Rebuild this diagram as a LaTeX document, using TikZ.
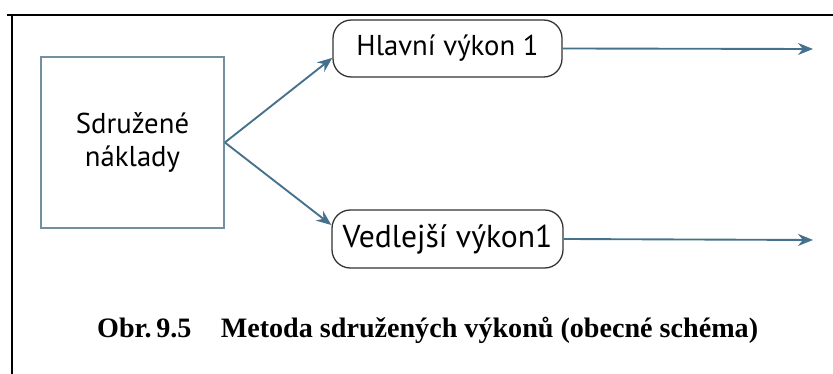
\documentclass[tikz,border=0pt]{standalone}
\usepackage{fontspec}
\setmainfont{Liberation Serif}
\newfontfamily\boxfont{PT Sans}
\usetikzlibrary{arrows.meta,positioning}
\definecolor{flowblue}{HTML}{45718C}
\definecolor{framegray}{HTML}{7490A0}
\definecolor{outline}{HTML}{333333}

\begin{document}
\begin{tikzpicture}[x=0.03cm, y=-0.03cm,
  costbox/.style={draw=framegray, line width=1.5pt, minimum width=5.49cm, minimum height=5.13cm, align=center, font=\boxfont\fontsize{24.5}{28.5}\selectfont},
  outbox/.style={draw=outline, line width=1.1pt, rounded corners=0.55cm, inner sep=0pt},
  flow/.style={draw=flowblue, line width=1.6pt, -{Stealth[length=0.45cm,width=0.36cm]}}
]
\useasboundingbox (0,0) rectangle (833,374);
% frame
\draw[line width=1.6pt] (7,15) -- (833,15);
\draw[line width=1.6pt] (12,15) -- (12,374);

\node[costbox] (cost) at (132.5,142.5) {Sdružené\\náklady};
\node[outbox, minimum width=6.87cm, minimum height=1.71cm, font=\boxfont\fontsize{24.5}{28}\selectfont] (main) at (447.5,48.5) {Hlavní výkon 1};
\node[outbox, minimum width=6.93cm, minimum height=1.74cm, font=\boxfont\fontsize{27}{30}\selectfont] (side) at (447.5,239) {Vedlejší výkon1};
\coordinate (mainend) at (813,49);
\coordinate (sideend) at (813,240);

\draw[flow] (cost.east) -- ([yshift=-0.28cm]main.west);
\draw[flow] (cost.east) -- ([yshift=0.42cm]side.west);
\draw[flow] (main.east) -- (mainend);
\draw[flow] (side.east) -- (sideend);

% caption
\node[anchor=base west, inner sep=0pt, font=\bfseries\fontsize{24}{26}\selectfont] (caption) at (97,338) {Obr.\,9.5\hspace{25pt}Metoda sdružených výkonů (obecné schéma)};
\end{tikzpicture}
\end{document}
